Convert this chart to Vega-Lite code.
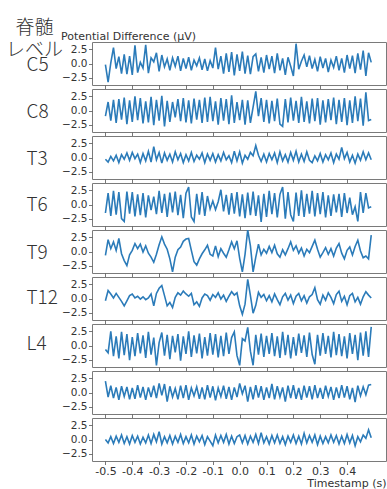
{
"$schema": "https://vega.github.io/schema/vega-lite/v6.json",
"background": "white",
"padding": {"left": 5, "top": 18, "right": 1, "bottom": 0},
"title": {"text": ["脊髄", "レベル"], "anchor": "start", "align": "center", "dx": 9, "fontSize": 19, "font": "Noto Sans CJK JP", "fontWeight": 300, "color": "#333", "lineHeight": 22, "offset": -29.5},
"config": {
  "font": "DejaVu Sans",
  "view": {"stroke": "#7a7a7a", "strokeWidth": 1},
  "axis": {"grid": false, "domain": false, "tickSize": 3.5, "tickColor": "#555", "tickWidth": 0.8, "labelFont": "DejaVu Sans", "labelColor": "#333", "labelFontSize": 10.5, "labelPadding": 1.5, "labelOverlap": false},
  "axisX": {"labels": false},
  "axisY": {"format": ".1f", "titleAngle": 0, "titleAlign": "left", "titleBaseline": "middle", "titleX": -66, "titleFont": "Noto Sans CJK JP", "titleFontSize": 19, "titleFontWeight": 300, "titleColor": "#333"},
  "line": {"color": "#2b7bb9", "strokeWidth": 1.6}
},
"data": {"values": [
{"t":-0.5,"a":-0.2,"b":-1.0,"c":-0.3,"d":-1.5,"e":-0.7,"f":-0.4,"g":-0.7,"h":2.0,"i":0.0},
{"t":-0.49,"a":-3.3,"b":1.5,"c":-0.8,"d":2.0,"e":2.1,"f":1.4,"g":-1.3,"h":-0.8,"i":-0.6},
{"t":-0.48,"a":0.1,"b":-1.8,"c":0.2,"d":-2.0,"e":0.5,"f":0.8,"g":2.5,"h":1.2,"i":0.5},
{"t":-0.47,"a":2.8,"b":1.9,"c":-0.6,"d":2.4,"e":1.7,"f":0.1,"g":-1.9,"h":-1.0,"i":-0.7},
{"t":-0.46,"a":-0.9,"b":-2.2,"c":0.4,"d":-1.8,"e":0.2,"f":0.9,"g":1.6,"h":0.9,"i":0.6},
{"t":-0.45,"a":1.2,"b":2.0,"c":-0.9,"d":2.2,"e":2.3,"f":0.2,"g":-2.3,"h":-1.3,"i":-0.5},
{"t":-0.44,"a":-1.8,"b":-1.6,"c":0.5,"d":-2.5,"e":-0.4,"f":-0.5,"g":2.4,"h":1.1,"i":0.8},
{"t":-0.43,"a":1.6,"b":2.3,"c":-0.3,"d":-3.0,"e":-1.6,"f":-1.3,"g":-1.7,"h":-0.7,"i":-0.7},
{"t":-0.42,"a":-1.9,"b":-2.4,"c":0.8,"d":2.3,"e":-2.5,"f":-0.4,"g":2.0,"h":1.0,"i":0.5},
{"t":-0.41,"a":1.3,"b":1.8,"c":-0.5,"d":-1.6,"e":-0.6,"f":0.5,"g":-2.6,"h":-1.2,"i":-0.8},
{"t":-0.40,"a":-2.0,"b":-2.0,"c":0.9,"d":2.2,"e":0.2,"f":0.8,"g":1.5,"h":0.8,"i":0.7},
{"t":-0.39,"a":3.2,"b":2.5,"c":-0.2,"d":-2.1,"e":1.4,"f":0.1,"g":-1.9,"h":-1.1,"i":-0.5},
{"t":-0.38,"a":-1.6,"b":-1.7,"c":0.6,"d":1.8,"e":0.5,"f":0.4,"g":2.2,"h":1.3,"i":0.6},
{"t":-0.37,"a":0.2,"b":2.2,"c":-0.9,"d":-1.9,"e":1.3,"f":-0.1,"g":-1.4,"h":-0.9,"i":-0.8},
{"t":-0.36,"a":-0.8,"b":-2.3,"c":0.7,"d":2.0,"e":-0.1,"f":0.3,"g":1.8,"h":1.0,"i":0.4},
{"t":-0.35,"a":3.3,"b":1.6,"c":-0.6,"d":-2.3,"e":1.0,"f":-0.2,"g":-2.2,"h":-1.3,"i":-0.6},
{"t":-0.34,"a":-1.7,"b":-2.1,"c":1.1,"d":1.6,"e":-0.3,"f":0.1,"g":2.4,"h":0.9,"i":0.8},
{"t":-0.33,"a":1.0,"b":2.4,"c":-0.8,"d":-1.0,"e":-1.0,"f":0.8,"g":-1.6,"h":-0.8,"i":-0.7},
{"t":-0.32,"a":0.3,"b":-2.6,"c":1.9,"d":1.4,"e":-1.9,"f":-1.3,"g":1.4,"h":1.2,"i":0.9},
{"t":-0.31,"a":1.9,"b":1.9,"c":-0.4,"d":-1.7,"e":-0.5,"f":0.9,"g":-3.5,"h":-1.0,"i":-0.4},
{"t":-0.30,"a":-1.4,"b":-1.8,"c":0.9,"d":2.4,"e":1.2,"f":1.8,"g":0.5,"h":1.6,"i":1.4},
{"t":-0.29,"a":1.5,"b":2.6,"c":-1.0,"d":-1.5,"e":2.6,"f":2.3,"g":2.3,"h":-0.5,"i":-0.8},
{"t":-0.28,"a":-0.6,"b":-2.8,"c":0.8,"d":1.9,"e":1.3,"f":0.5,"g":-1.8,"h":1.5,"i":0.5},
{"t":-0.27,"a":0.8,"b":1.7,"c":-0.5,"d":-2.2,"e":0.4,"f":-1.3,"g":1.9,"h":-1.6,"i":-0.6},
{"t":-0.26,"a":-1.2,"b":-2.0,"c":0.6,"d":2.1,"e":-1.3,"f":-0.7,"g":-2.4,"h":1.1,"i":0.7},
{"t":-0.25,"a":1.0,"b":1.5,"c":-0.8,"d":-1.4,"e":-3.6,"f":-1.6,"g":1.7,"h":-0.8,"i":-0.8},
{"t":-0.24,"a":-0.5,"b":-1.2,"c":1.0,"d":2.3,"e":-1.0,"f":0.2,"g":-1.2,"h":0.7,"i":0.6},
{"t":-0.23,"a":1.3,"b":2.0,"c":-0.4,"d":-1.9,"e":0.3,"f":1.0,"g":2.0,"h":-1.2,"i":-0.5},
{"t":-0.22,"a":-1.3,"b":-1.9,"c":0.7,"d":1.7,"e":0.8,"f":0.6,"g":-2.7,"h":1.2,"i":0.9},
{"t":-0.21,"a":0.9,"b":2.2,"c":-0.9,"d":-2.4,"e":1.8,"f":1.3,"g":1.6,"h":-1.0,"i":-0.7},
{"t":-0.20,"a":-0.9,"b":-2.1,"c":0.5,"d":2.0,"e":2.2,"f":0.8,"g":-1.5,"h":1.3,"i":0.5},
{"t":-0.19,"a":1.1,"b":1.8,"c":-0.6,"d":3.1,"e":2.3,"f":0.4,"g":2.5,"h":-1.3,"i":-0.6},
{"t":-0.18,"a":-1.2,"b":-2.3,"c":0.9,"d":-2.2,"e":0.2,"f":0.9,"g":-2.0,"h":0.8,"i":0.8},
{"t":-0.17,"a":0.6,"b":2.1,"c":-0.7,"d":-3.0,"e":-1.8,"f":-1.1,"g":1.8,"h":-0.6,"i":-0.8},
{"t":-0.16,"a":-0.4,"b":-1.6,"c":0.4,"d":1.9,"e":-2.4,"f":-0.6,"g":-1.4,"h":1.0,"i":0.6},
{"t":-0.15,"a":1.0,"b":1.9,"c":-0.3,"d":-1.8,"e":-1.3,"f":-1.4,"g":2.1,"h":-1.1,"i":-0.4},
{"t":-0.14,"a":-1.1,"b":-2.2,"c":0.8,"d":2.2,"e":-0.4,"f":0.1,"g":-2.3,"h":0.9,"i":0.7},
{"t":-0.13,"a":0.8,"b":2.3,"c":-0.9,"d":-2.0,"e":0.3,"f":0.8,"g":1.5,"h":-1.2,"i":-0.9},
{"t":-0.12,"a":-1.3,"b":-2.0,"c":0.6,"d":1.5,"e":1.1,"f":0.5,"g":-1.8,"h":1.3,"i":0.5},
{"t":-0.11,"a":0.5,"b":2.4,"c":-0.5,"d":-0.8,"e":-0.5,"f":-0.3,"g":2.2,"h":-0.9,"i":-0.3},
{"t":-0.10,"a":-0.8,"b":-1.9,"c":0.7,"d":0.6,"e":-0.8,"f":0.7,"g":-1.6,"h":1.1,"i":-1.1},
{"t":-0.09,"a":2.8,"b":1.6,"c":-0.8,"d":-0.9,"e":1.0,"f":0.2,"g":2.0,"h":-1.4,"i":0.8},
{"t":-0.08,"a":-1.0,"b":-2.5,"c":0.5,"d":0.5,"e":-0.9,"f":1.0,"g":-2.1,"h":0.8,"i":-0.6},
{"t":-0.07,"a":1.3,"b":2.2,"c":-0.6,"d":2.6,"e":0.5,"f":-0.1,"g":1.7,"h":-0.7,"i":0.7},
{"t":-0.06,"a":-1.8,"b":-1.8,"c":0.9,"d":-1.2,"e":-0.3,"f":0.6,"g":-1.9,"h":1.2,"i":-0.5},
{"t":-0.05,"a":1.8,"b":2.0,"c":-0.4,"d":1.7,"e":-1.0,"f":-0.5,"g":2.3,"h":-1.1,"i":0.9},
{"t":-0.04,"a":-1.5,"b":-2.4,"c":0.3,"d":-1.8,"e":0.3,"f":0.4,"g":-1.5,"h":1.0,"i":-0.8},
{"t":-0.03,"a":2.0,"b":2.7,"c":-0.9,"d":2.0,"e":1.7,"f":1.2,"g":1.4,"h":-1.3,"i":0.6},
{"t":-0.02,"a":-2.1,"b":-2.2,"c":1.1,"d":-1.6,"e":0.5,"f":0.6,"g":2.4,"h":0.9,"i":-0.7},
{"t":-0.01,"a":1.6,"b":1.5,"c":-0.6,"d":2.2,"e":1.9,"f":1.0,"g":-1.8,"h":-0.8,"i":0.5},
{"t":0.0,"a":-1.3,"b":-1.7,"c":1.0,"d":-2.1,"e":-1.2,"f":-1.3,"g":-3.5,"h":1.6,"i":0.8},
{"t":0.01,"a":2.1,"b":1.9,"c":-1.0,"d":1.8,"e":-3.6,"f":-2.8,"g":1.2,"h":-0.2,"i":-0.6},
{"t":0.02,"a":-1.8,"b":-2.5,"c":0.4,"d":-2.4,"e":-0.5,"f":-1.0,"g":0.8,"h":1.2,"i":0.7},
{"t":0.03,"a":1.4,"b":1.8,"c":-0.3,"d":2.1,"e":3.8,"f":3.4,"g":3.2,"h":-1.6,"i":-0.8},
{"t":0.04,"a":-1.9,"b":-2.2,"c":0.9,"d":-1.9,"e":1.0,"f":0.5,"g":-1.0,"h":1.0,"i":0.6},
{"t":0.05,"a":1.2,"b":0.6,"c":0.3,"d":2.3,"e":-3.6,"f":-2.6,"g":-3.5,"h":-1.2,"i":-0.5},
{"t":0.06,"a":1.7,"b":3.4,"c":2.1,"d":-2.0,"e":-1.0,"f":-1.2,"g":1.9,"h":1.3,"i":0.9},
{"t":0.07,"a":-1.4,"b":-1.0,"c":0.4,"d":1.6,"e":1.3,"f":1.1,"g":-1.6,"h":-0.9,"i":-0.7},
{"t":0.08,"a":1.1,"b":2.2,"c":-0.7,"d":-3.1,"e":-0.6,"f":0.2,"g":2.1,"h":1.1,"i":1.2},
{"t":0.09,"a":-1.6,"b":-2.0,"c":0.6,"d":1.9,"e":0.4,"f":0.7,"g":-2.0,"h":-1.3,"i":-0.6},
{"t":0.10,"a":1.5,"b":1.9,"c":-0.8,"d":-2.2,"e":-0.3,"f":-0.4,"g":1.7,"h":0.9,"i":0.5},
{"t":0.11,"a":-1.0,"b":-2.3,"c":0.7,"d":2.4,"e":0.9,"f":0.5,"g":-1.5,"h":-1.0,"i":-0.8},
{"t":0.12,"a":1.3,"b":1.7,"c":-0.4,"d":-1.7,"e":-0.2,"f":-0.6,"g":2.2,"h":1.5,"i":0.7},
{"t":0.13,"a":-1.7,"b":-1.9,"c":0.8,"d":2.0,"e":1.1,"f":0.8,"g":-1.9,"h":-1.2,"i":-0.6},
{"t":0.14,"a":1.8,"b":2.1,"c":-0.9,"d":-2.3,"e":-0.4,"f":-0.2,"g":1.6,"h":1.1,"i":0.8},
{"t":0.15,"a":-1.2,"b":-2.4,"c":1.0,"d":1.8,"e":-1.0,"f":-1.1,"g":-2.2,"h":-0.8,"i":-0.7},
{"t":0.16,"a":0.9,"b":-2.8,"c":-0.6,"d":3.1,"e":0.3,"f":0.3,"g":2.4,"h":0.9,"i":0.5},
{"t":0.17,"a":-2.0,"b":2.0,"c":0.5,"d":-2.5,"e":-0.6,"f":0.9,"g":-1.7,"h":-1.6,"i":-0.9},
{"t":0.18,"a":1.1,"b":-2.1,"c":-0.8,"d":2.2,"e":0.5,"f":-0.3,"g":1.9,"h":1.2,"i":0.6},
{"t":0.19,"a":-0.5,"b":2.3,"c":0.9,"d":-1.8,"e":1.7,"f":0.6,"g":-2.3,"h":-1.0,"i":-0.5},
{"t":0.20,"a":-2.2,"b":-1.8,"c":-0.5,"d":-3.0,"e":0.2,"f":-0.9,"g":1.5,"h":1.3,"i":0.8},
{"t":0.21,"a":3.5,"b":1.7,"c":1.1,"d":2.1,"e":1.0,"f":0.4,"g":-1.8,"h":-1.1,"i":-0.7},
{"t":0.22,"a":-1.0,"b":-2.2,"c":-0.8,"d":-2.0,"e":-0.3,"f":0.9,"g":2.1,"h":0.8,"i":0.6},
{"t":0.23,"a":0.4,"b":2.4,"c":0.6,"d":2.5,"e":0.6,"f":-0.4,"g":-1.3,"h":-1.3,"i":-0.8},
{"t":0.24,"a":1.5,"b":-2.0,"c":-0.7,"d":-2.2,"e":-0.8,"f":0.5,"g":1.8,"h":1.2,"i":1.1},
{"t":0.25,"a":-0.6,"b":1.6,"c":1.0,"d":1.9,"e":0.4,"f":-0.8,"g":-2.0,"h":-0.9,"i":-0.6},
{"t":0.26,"a":1.4,"b":-2.3,"c":-0.5,"d":-1.6,"e":-0.2,"f":0.3,"g":2.3,"h":1.1,"i":0.7},
{"t":0.27,"a":-0.9,"b":2.1,"c":-0.9,"d":2.4,"e":0.9,"f":0.7,"g":-1.6,"h":-1.2,"i":-0.5},
{"t":0.28,"a":0.7,"b":-1.9,"c":0.3,"d":-2.1,"e":2.0,"f":1.9,"g":-3.3,"h":1.3,"i":0.8},
{"t":0.29,"a":-1.4,"b":2.2,"c":-0.6,"d":2.0,"e":0.4,"f":-0.2,"g":1.9,"h":-1.0,"i":-0.9},
{"t":0.30,"a":1.2,"b":-2.5,"c":0.7,"d":-1.7,"e":-1.0,"f":-1.0,"g":-1.8,"h":0.8,"i":0.6},
{"t":0.31,"a":-0.8,"b":1.8,"c":-0.8,"d":2.2,"e":-0.2,"f":0.6,"g":2.2,"h":-1.1,"i":-0.7},
{"t":0.32,"a":0.9,"b":-2.1,"c":0.5,"d":-2.3,"e":0.7,"f":-0.3,"g":-1.5,"h":1.2,"i":0.5},
{"t":0.33,"a":-1.5,"b":2.0,"c":-0.4,"d":1.6,"e":-0.5,"f":1.0,"g":1.7,"h":-0.7,"i":-0.6},
{"t":0.34,"a":0.6,"b":-1.7,"c":0.8,"d":-2.0,"e":0.5,"f":0.2,"g":-2.1,"h":1.0,"i":0.8},
{"t":0.35,"a":-0.7,"b":2.3,"c":-0.9,"d":1.8,"e":-0.8,"f":-0.9,"g":2.4,"h":-1.3,"i":-0.5},
{"t":0.36,"a":1.3,"b":-2.4,"c":0.6,"d":-1.4,"e":0.6,"f":0.7,"g":-1.7,"h":0.9,"i":0.7},
{"t":0.37,"a":-1.2,"b":1.9,"c":-0.3,"d":1.9,"e":1.4,"f":1.3,"g":2.0,"h":-1.0,"i":-0.8},
{"t":0.38,"a":0.9,"b":-2.0,"c":1.8,"d":-2.2,"e":-0.3,"f":-0.5,"g":-1.9,"h":1.3,"i":0.6},
{"t":0.39,"a":-1.6,"b":2.2,"c":-0.2,"d":2.0,"e":-1.3,"f":0.4,"g":1.6,"h":-0.9,"i":-0.7},
{"t":0.40,"a":1.5,"b":-2.6,"c":0.9,"d":-1.5,"e":0.2,"f":-1.1,"g":-2.3,"h":1.1,"i":0.9},
{"t":0.41,"a":-0.9,"b":1.8,"c":-0.8,"d":1.2,"e":0.8,"f":0.5,"g":2.2,"h":-1.2,"i":-0.6},
{"t":0.42,"a":1.4,"b":-2.2,"c":0.4,"d":-1.8,"e":-0.6,"f":0.9,"g":-1.5,"h":0.8,"i":0.7},
{"t":0.43,"a":-1.7,"b":2.5,"c":-1.0,"d":-0.4,"e":0.9,"f":-0.6,"g":1.9,"h":-1.7,"i":-1.1},
{"t":0.44,"a":1.8,"b":-1.9,"c":0.6,"d":-3.0,"e":2.0,"f":0.2,"g":-2.6,"h":1.2,"i":0.5},
{"t":0.45,"a":-1.1,"b":2.1,"c":-0.5,"d":2.2,"e":0.1,"f":-1.0,"g":2.3,"h":-0.6,"i":-0.4},
{"t":0.46,"a":2.3,"b":-2.7,"c":1.0,"d":-1.5,"e":-1.1,"f":0.3,"g":-1.8,"h":1.0,"i":0.8},
{"t":0.47,"a":-2.2,"b":3.2,"c":-0.4,"d":2.0,"e":-0.8,"f":1.2,"g":2.5,"h":-0.4,"i":0.2},
{"t":0.48,"a":1.9,"b":-1.8,"c":0.8,"d":-0.6,"e":-1.3,"f":0.6,"g":-2.0,"h":1.3,"i":1.7},
{"t":0.49,"a":0.2,"b":-1.6,"c":-0.4,"d":-0.4,"e":2.9,"f":0.1,"g":3.3,"h":1.4,"i":0.3}
]},
"spacing": 4,
"bounds": "flush",
"vconcat": [
{"width": 294, "height": 43,
 "title": {"text": "Potential Difference (μV)", "anchor": "start", "frame": "group", "dx": -31, "fontSize": 11, "fontWeight": "normal", "font": "DejaVu Sans", "color": "#333", "offset": -8.5, "baseline": "alphabetic"},
 "mark": {"type": "line", "clip": true},
 "encoding": {
  "x": {"field": "t", "type": "quantitative", "scale": {"domain": [-0.55, 0.545], "nice": false, "zero": false}, "axis": {"title": null, "values": [-0.5, -0.4, -0.3, -0.2, -0.1, 0, 0.1, 0.2, 0.3, 0.4]}},
  "y": {"field": "a", "type": "quantitative", "scale": {"domain": [-3.8, 3.8], "nice": false, "zero": false}, "axis": {"values": [-2.5, 0, 2.5], "title": "C5", "titleY": 22.5}}
 }},
{"width": 294, "height": 43,
 "mark": {"type": "line", "clip": true},
 "encoding": {
  "x": {"field": "t", "type": "quantitative", "scale": {"domain": [-0.55, 0.545], "nice": false, "zero": false}, "axis": {"title": null, "values": [-0.5, -0.4, -0.3, -0.2, -0.1, 0, 0.1, 0.2, 0.3, 0.4]}},
  "y": {"field": "b", "type": "quantitative", "scale": {"domain": [-3.8, 3.8], "nice": false, "zero": false}, "axis": {"values": [-2.5, 0, 2.5], "title": "C8", "titleY": 22.5}}
 }},
{"width": 294, "height": 43,
 "mark": {"type": "line", "clip": true},
 "encoding": {
  "x": {"field": "t", "type": "quantitative", "scale": {"domain": [-0.55, 0.545], "nice": false, "zero": false}, "axis": {"title": null, "values": [-0.5, -0.4, -0.3, -0.2, -0.1, 0, 0.1, 0.2, 0.3, 0.4]}},
  "y": {"field": "c", "type": "quantitative", "scale": {"domain": [-3.8, 3.8], "nice": false, "zero": false}, "axis": {"values": [-2.5, 0, 2.5], "title": "T3", "titleY": 22.5}}
 }},
{"width": 294, "height": 43,
 "mark": {"type": "line", "clip": true},
 "encoding": {
  "x": {"field": "t", "type": "quantitative", "scale": {"domain": [-0.55, 0.545], "nice": false, "zero": false}, "axis": {"title": null, "values": [-0.5, -0.4, -0.3, -0.2, -0.1, 0, 0.1, 0.2, 0.3, 0.4]}},
  "y": {"field": "d", "type": "quantitative", "scale": {"domain": [-3.8, 3.8], "nice": false, "zero": false}, "axis": {"values": [-2.5, 0, 2.5], "title": "T6", "titleY": 21.5}}
 }},
{"width": 294, "height": 43,
 "mark": {"type": "line", "clip": true},
 "encoding": {
  "x": {"field": "t", "type": "quantitative", "scale": {"domain": [-0.55, 0.545], "nice": false, "zero": false}, "axis": {"title": null, "values": [-0.5, -0.4, -0.3, -0.2, -0.1, 0, 0.1, 0.2, 0.3, 0.4]}},
  "y": {"field": "e", "type": "quantitative", "scale": {"domain": [-3.8, 3.8], "nice": false, "zero": false}, "axis": {"values": [-2.5, 0, 2.5], "title": "T9", "titleY": 22}}
 }},
{"width": 294, "height": 43,
 "mark": {"type": "line", "clip": true},
 "encoding": {
  "x": {"field": "t", "type": "quantitative", "scale": {"domain": [-0.55, 0.545], "nice": false, "zero": false}, "axis": {"title": null, "values": [-0.5, -0.4, -0.3, -0.2, -0.1, 0, 0.1, 0.2, 0.3, 0.4]}},
  "y": {"field": "f", "type": "quantitative", "scale": {"domain": [-3.8, 3.8], "nice": false, "zero": false}, "axis": {"values": [-2.5, 0, 2.5], "title": "T12", "titleY": 20}}
 }},
{"width": 294, "height": 43,
 "mark": {"type": "line", "clip": true},
 "encoding": {
  "x": {"field": "t", "type": "quantitative", "scale": {"domain": [-0.55, 0.545], "nice": false, "zero": false}, "axis": {"title": null, "values": [-0.5, -0.4, -0.3, -0.2, -0.1, 0, 0.1, 0.2, 0.3, 0.4]}},
  "y": {"field": "g", "type": "quantitative", "scale": {"domain": [-3.8, 3.8], "nice": false, "zero": false}, "axis": {"values": [-2.5, 0, 2.5], "title": "L4", "titleY": 19.5}}
 }},
{"width": 294, "height": 43,
 "mark": {"type": "line", "clip": true},
 "encoding": {
  "x": {"field": "t", "type": "quantitative", "scale": {"domain": [-0.55, 0.545], "nice": false, "zero": false}, "axis": {"title": null, "values": [-0.5, -0.4, -0.3, -0.2, -0.1, 0, 0.1, 0.2, 0.3, 0.4]}},
  "y": {"field": "h", "type": "quantitative", "scale": {"domain": [-3.8, 3.8], "nice": false, "zero": false}, "axis": {"values": [-2.5, 0, 2.5], "title": null}}
 }},
{"width": 294, "height": 43,
 "mark": {"type": "line", "clip": true},
 "encoding": {
  "x": {"field": "t", "type": "quantitative", "scale": {"domain": [-0.55, 0.545], "nice": false, "zero": false}, "axis": {"values": [-0.5, -0.4, -0.3, -0.2, -0.1, 0, 0.1, 0.2, 0.3, 0.4], "labels": true, "labelFontSize": 11, "labelPadding": 1, "labelFlush": false, "labelExpr": "replace(format(datum.value, '.1f'), '−', '-')", "title": "Timestamp (s)", "titleFont": "DejaVu Sans", "titleFontSize": 11, "titleFontWeight": "normal", "titleColor": "#333", "titleAlign": "right", "titleAnchor": "end", "titleX": 294, "titleY": 25, "titleBaseline": "alphabetic"}},
  "y": {"field": "i", "type": "quantitative", "scale": {"domain": [-3.8, 3.8], "nice": false, "zero": false}, "axis": {"values": [-2.5, 0, 2.5], "title": null}}
 }}
]
}
